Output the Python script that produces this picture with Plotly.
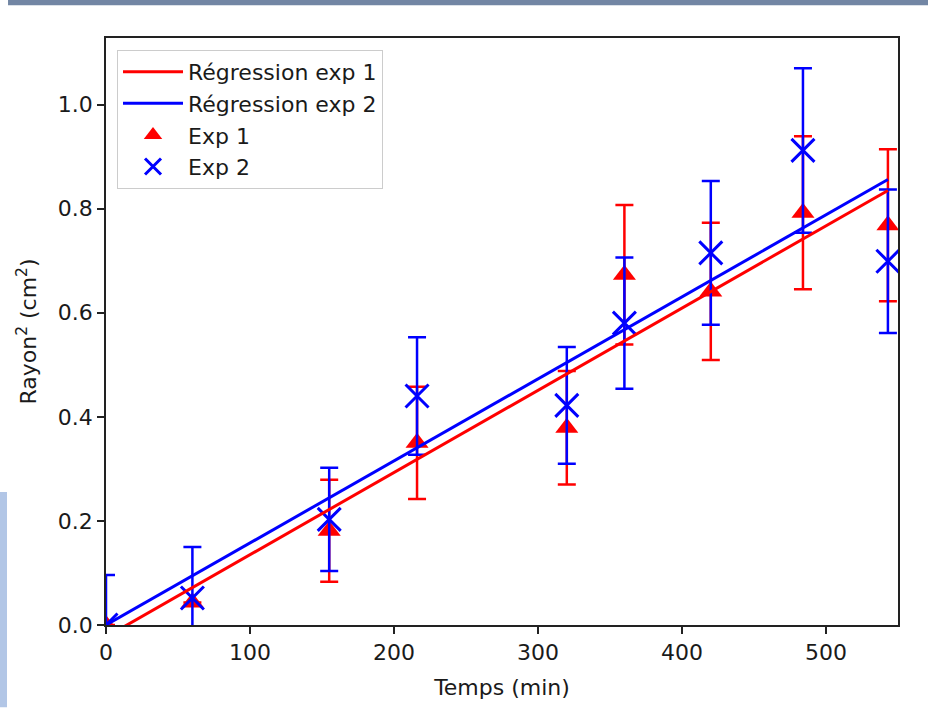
import plotly.graph_objects as go

# ---- data ----
temps = [0, 60, 155, 216, 320, 360, 420, 484, 543]

exp1_y = [0.0, 0.043, 0.181, 0.350, 0.379, 0.673, 0.641, 0.792, 0.768]
exp1_err = [0.0, 0.0, 0.098, 0.108, 0.109, 0.134, 0.132, 0.147, 0.146]

exp2_y = [0.0, 0.052, 0.203, 0.440, 0.422, 0.580, 0.715, 0.912, 0.699]
exp2_err = [0.096, 0.098, 0.099, 0.113, 0.112, 0.126, 0.138, 0.158, 0.138]

reg_x = [0, 543]
reg1_y = [-0.023, 0.835]
reg2_y = [0.0, 0.856]

x_ticks = [0, 100, 200, 300, 400, 500]
y_ticks = [0.0, 0.2, 0.4, 0.6, 0.8, 1.0]

FONT = "DejaVu Sans"
FS = 22
TXT = "#1a1a1a"

fig = go.Figure()

fig.add_trace(go.Scatter(
    x=temps, y=exp1_y, mode="markers", name="Exp 1", legendrank=3,
    marker=dict(symbol="triangle-up", size=20, color="red", line=dict(width=0)),
    error_y=dict(type="data", array=exp1_err, visible=True, color="red",
                 thickness=2.5, width=9),
))
fig.add_trace(go.Scatter(
    x=temps, y=exp2_y, mode="markers", name="Exp 2", legendrank=4,
    marker=dict(symbol="x-thin", size=23, color="blue", line=dict(width=3, color="blue")),
    error_y=dict(type="data", array=exp2_err, visible=True, color="blue",
                 thickness=2.5, width=9),
))
fig.add_trace(go.Scatter(
    x=reg_x, y=reg1_y, mode="lines", name="Régression exp 1", legendrank=1,
    line=dict(color="red", width=3),
))
fig.add_trace(go.Scatter(
    x=reg_x, y=reg2_y, mode="lines", name="Régression exp 2", legendrank=2,
    line=dict(color="blue", width=3),
))

axis_common = dict(
    showgrid=False, zeroline=False, showline=True, linecolor="#222222", linewidth=1.6,
    mirror=True, ticks="outside", ticklen=7, tickwidth=1.6, tickcolor="#222222",
    tickfont=dict(family=FONT, size=FS, color=TXT),
)

fig.update_layout(
    width=928, height=708,
    margin=dict(l=106, r=30, t=38, b=79),
    paper_bgcolor="white", plot_bgcolor="white",
    font=dict(family=FONT, size=FS, color=TXT),
    xaxis=dict(range=[0, 550], tickvals=x_ticks,
               title=dict(text="Temps (min)", font=dict(family=FONT, size=FS, color=TXT)),
               **axis_common),
    yaxis=dict(range=[0, 1.128], tickvals=y_ticks, tickformat=".1f",
               title=dict(text="Rayon<sup>2</sup> (cm<sup>2</sup>)",
                          font=dict(family=FONT, size=FS, color=TXT)),
               **axis_common),
    legend=dict(x=0.0139, y=0.9797, xanchor="left", yanchor="top",
                bgcolor="rgba(255,255,255,0.8)", bordercolor="#cccccc", borderwidth=1,
                font=dict(family=FONT, size=FS, color=TXT), itemwidth=60),
    showlegend=True,
    shapes=[
        dict(type="rect", xref="paper", yref="paper", x0=-0.1237, x1=1.0379,
             y0=1.0558, y1=1.07, fillcolor="#7286a4", line=dict(width=0), layer="above"),
        dict(type="rect", xref="paper", yref="paper", x0=-0.14, x1=-0.125,
             y0=-0.14, y1=0.2267, fillcolor="#b2c6e6", line=dict(width=0), layer="above"),
    ],
)

fig.write_html("out.html", config={"displayModeBar": False},
               post_script="document.body.style.margin='0';")
